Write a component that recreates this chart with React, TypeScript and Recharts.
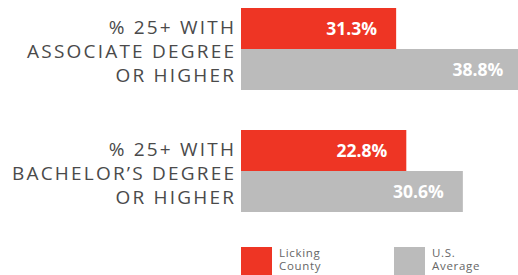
import { BarChart, Bar, XAxis, YAxis, LabelList } from 'recharts'

// category labels, one string per line
const categories = [
  ['% 25+ WITH', 'ASSOCIATE DEGREE', 'OR HIGHER'],
  ['% 25+ WITH', 'BACHELOR\u2019S DEGREE', 'OR HIGHER'],
]
// bar lengths as drawn in the picture (first red bar is drawn shorter than its printed 31.3%)
const lickingCounty = [21.4, 22.8]
const usAverage = [38.8, 30.6]
// printed value labels
const lickingLabels = ['31.3%', '22.8%']
const usLabels = ['38.8%', '30.6%']

const RED = '#ee3524'
const GRAY = '#bbbbbb'
const TEXT = '#4a4a4a'

const data = categories.map((c, i) => ({
  name: c.join('|'),
  licking: lickingCounty[i],
  us: usAverage[i],
  lickingLabel: lickingLabels[i],
  usLabel: usLabels[i],
}))

const CatTick = ({ x, y, payload }: any) => {
  const lines = String(payload.value).split('|')
  return (
    <text x={x + 2.2} y={y} textAnchor="end" fill={TEXT} fontSize={19} fontWeight={400} letterSpacing={2.2} fontFamily="'Open Sans', sans-serif">
      {lines.map((l, i) => (
        <tspan key={i} x={x + 2.2} dy={i === 0 ? -15.5 : 24.3}>{l}</tspan>
      ))}
    </text>
  )
}

const ValueLabel = ({ x, y, width, height, value }: any) => (
  <text x={x + width - 19} y={y + height / 2 + 6.5} textAnchor="end" fill="#fff" fontSize={17.5} fontWeight={700} fontFamily="'Open Sans', sans-serif">
    {value}
  </text>
)

const LegendItem = ({ color, lines, left }: { color: string; lines: string[]; left: number }) => (
  <div style={{ position: 'absolute', left, top: 247, display: 'flex', gap: 7 }}>
    <div style={{ width: 31, height: 30, background: color }} />
    <div style={{ fontFamily: "'Open Sans', sans-serif", fontSize: 11.5, lineHeight: '13.5px', letterSpacing: 0.7, color: '#666', marginTop: -1.5 }}>
      {lines.map((l) => <div key={l}>{l}</div>)}
    </div>
  </div>
)

export default function App() {
  return (
    <div style={{ position: 'relative', width: 518, height: 275, overflow: 'hidden', background: '#fff' }}>
      <style>{'body{margin:0}'}</style>
      <div style={{ position: 'absolute', left: 0, top: -12 }}>
        <BarChart width={531} height={244} data={data} layout="vertical" margin={{ top: 0, right: 0, bottom: 0, left: 0 }} barCategoryGap={20} barGap={0}>
          <XAxis type="number" domain={[0, 40]} hide />
          <YAxis type="category" dataKey="name" width={241} axisLine={false} tickLine={false} tickSize={0} tickMargin={7} tick={<CatTick />} interval={0} />
          <Bar dataKey="licking" fill={RED} isAnimationActive={false}>
            <LabelList dataKey="lickingLabel" content={<ValueLabel />} />
          </Bar>
          <Bar dataKey="us" fill={GRAY} isAnimationActive={false}>
            <LabelList dataKey="usLabel" content={<ValueLabel />} />
          </Bar>
        </BarChart>
      </div>
      <LegendItem color={RED} lines={['Licking', 'County']} left={241} />
      <LegendItem color={GRAY} lines={['U.S.', 'Average']} left={394} />
    </div>
  )
}
